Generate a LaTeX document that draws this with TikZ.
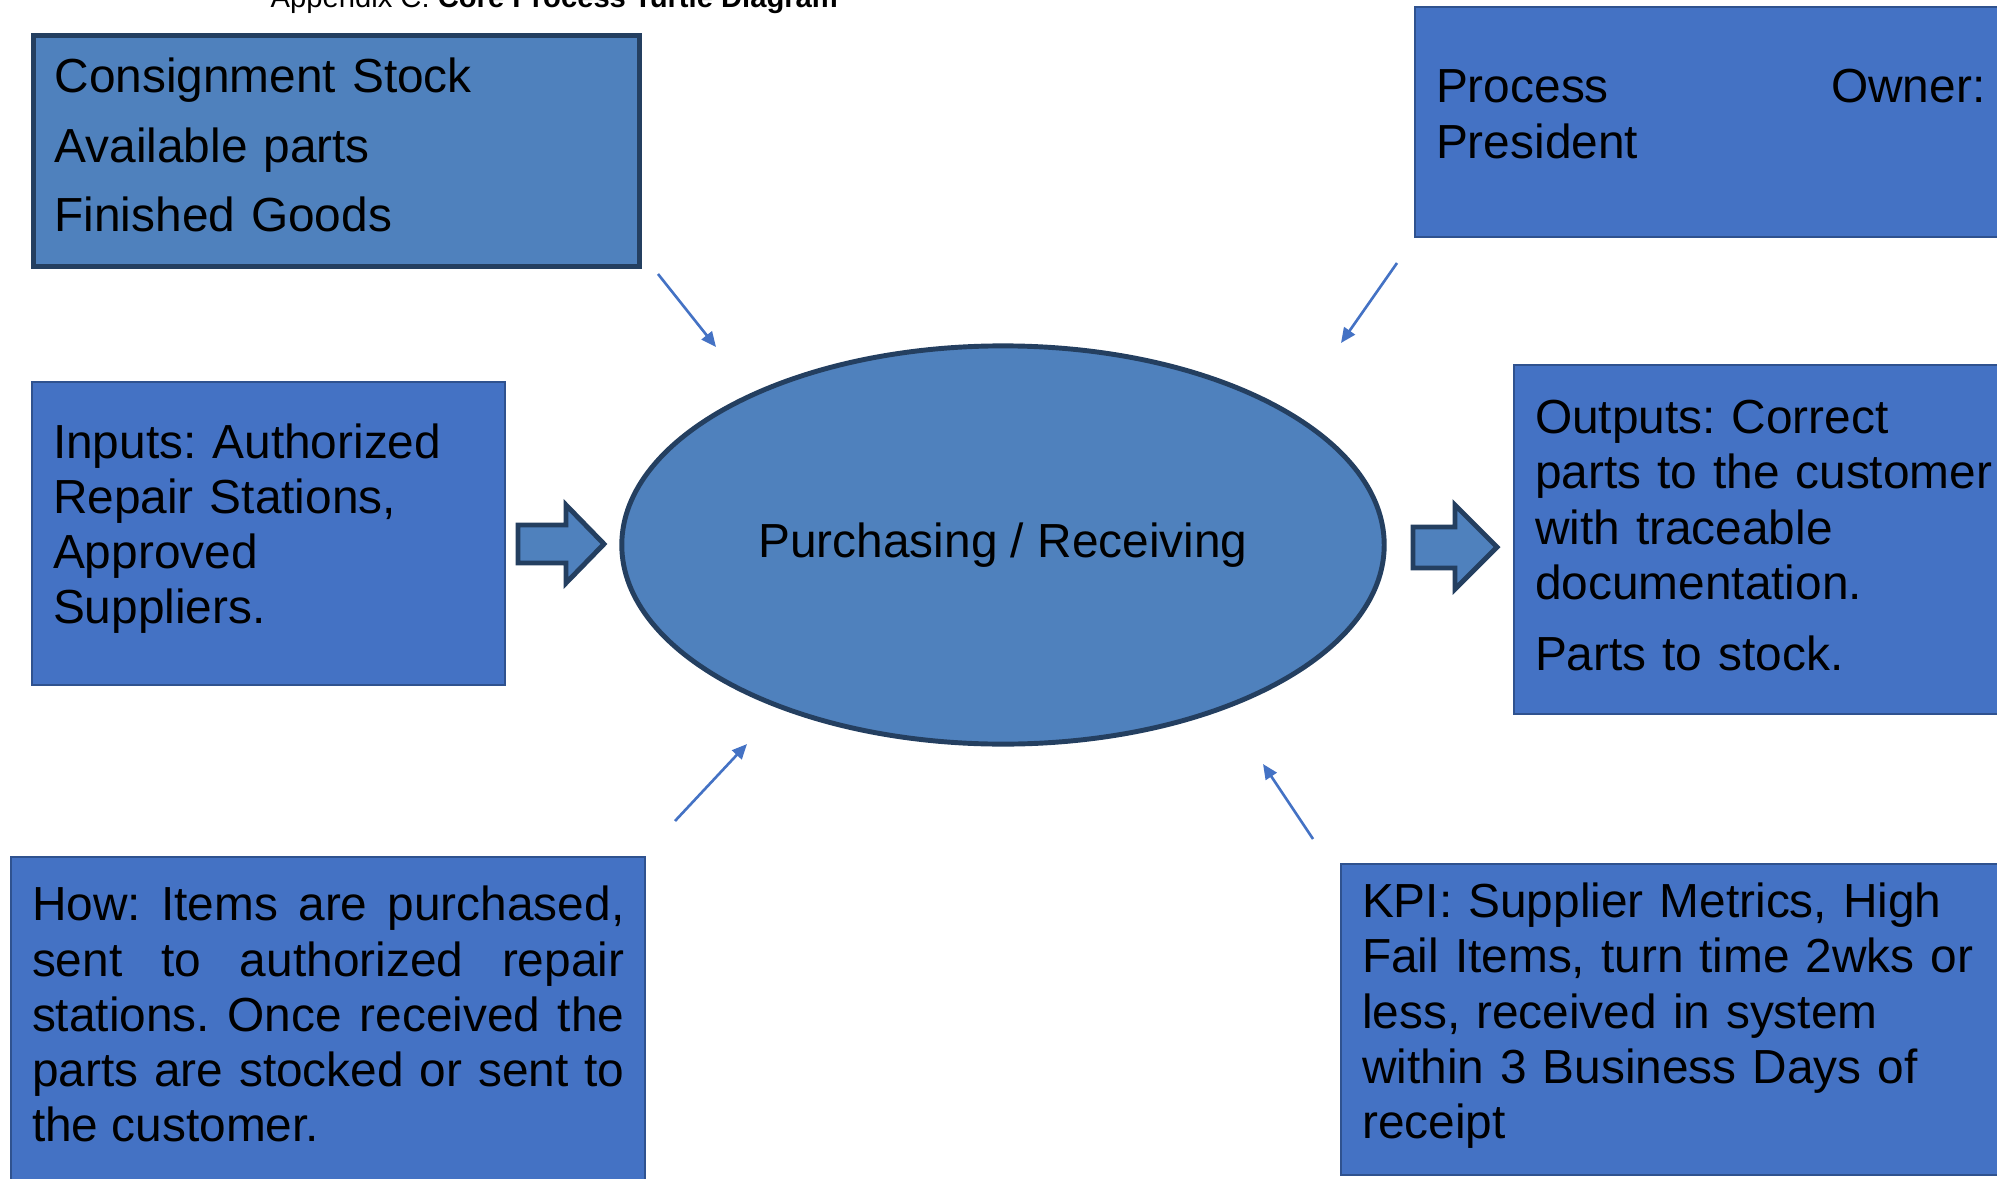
\documentclass[tikz,border=0pt]{standalone}
\usepackage{fontspec}
\setmainfont{Liberation Sans}
\frenchspacing
\hyphenpenalty=10000
\usetikzlibrary{shapes.geometric}
\usetikzlibrary{arrows.meta}
\definecolor{oldblue}{RGB}{79,129,189}
\definecolor{darkrim}{RGB}{36,63,96}
\definecolor{boxblue}{RGB}{68,114,196}
\definecolor{boxrim}{RGB}{47,82,143}
\tikzstyle{dark box}=[draw=darkrim, line width=1.4pt, fill=oldblue, anchor=north west, align=left, inner xsep=0.21cm, inner ysep=0pt]
\tikzstyle{plain box}=[draw=boxrim, line width=0.6pt, fill=boxblue, anchor=north west, align=left, inner xsep=0.21cm, inner ysep=0pt]
\tikzstyle{block arrow}=[draw=darkrim, line width=1.4pt, fill=oldblue, line join=miter]
\tikzstyle{pointer}=[draw=boxblue, line width=0.75pt, -{Triangle[length=0.15cm, width=0.13cm]}]
\tikzset{lift/.style={execute at end node={\par\vspace{#1}}}}

\begin{document}
\begin{tikzpicture}[x=0.01cm, y=-0.01cm, font=\fontsize{13.6}{15.7}\selectfont]
          \useasboundingbox (0,0) rectangle (1997,1179);

          \node[font=\fontsize{8.3}{10}\selectfont, anchor=base west, inner sep=0pt]
            (title) at (270,7.5) {Appendix C: \textbf{Core Process Turtle Diagram}};

          \node[dark box, text width=5.64cm, minimum height=2.31cm, lift=0.12cm] (stock) at (31,33)
            {Consignment Stock\\[4.1pt] Available parts\\[4.1pt] Finished Goods};
          \node[plain box, text width=5.54cm, minimum height=2.30cm, lift=0.16cm] (owner) at (1414,6)
            {\makebox[5.49cm][l]{Process\hfill Owner:}\\ President};
          \node[plain box, text width=4.31cm, minimum height=3.03cm, lift=0.1cm] (inputs) at (31,381)
            {Inputs: Authorized\\ Repair Stations,\\ Approved\\ Suppliers.};
          \node[plain box, text width=5.2cm, minimum height=3.49cm, lift=0.08cm] (outputs) at (1513,364)
            {Outputs: Correct\\ parts to the customer\\ with traceable\\ documentation.\\[4.5pt] Parts to stock.};
          \node[plain box, text width=5.92cm, minimum height=3.34cm, align=justify, lift=0.2cm] (how) at (10,856)
            {How: Items are purchased,\linebreak sent to authorized repair\linebreak
             stations. Once received the\linebreak parts are stocked or sent to\linebreak the customer.};
          \node[plain box, text width=6.28cm, minimum height=3.11cm, lift=0.08cm] (kpi) at (1340,863)
            {KPI: Supplier Metrics, High\\ Fail Items, turn time 2wks or\\ less, received in system\\
             within 3 Business Days of\\ receipt};

          \node[ellipse, draw=darkrim, line width=1.4pt, fill=oldblue, minimum width=7.62cm,
            minimum height=3.98cm, inner sep=0pt] (process) at (1003,545) {Purchasing / Receiving};

          % fat arrows in and out
          \draw[block arrow] (518,525) -- (566,525) -- (566,505) -- (604,544)
            -- (566,583) -- (566,563) -- (518,563) -- cycle;
          \draw[block arrow] (1413,527) -- (1455,527) -- (1455,505) -- (1497,547)
            -- (1455,589) -- (1455,568) -- (1413,568) -- cycle;

          \coordinate (stock tail) at (658,274);
          \coordinate (stock tip) at (716,347);
          \coordinate (owner tail) at (1397,263);
          \coordinate (owner tip) at (1341,343);
          \coordinate (how tail) at (675,821);
          \coordinate (how tip) at (747,744);
          \coordinate (kpi tail) at (1313,839);
          \coordinate (kpi tip) at (1263,764);

          \draw[pointer] (stock tail) -- (stock tip);
          \draw[pointer] (owner tail) -- (owner tip);
          \draw[pointer] (how tail) -- (how tip);
          \draw[pointer] (kpi tail) -- (kpi tip);
        \end{tikzpicture}
\end{document}
